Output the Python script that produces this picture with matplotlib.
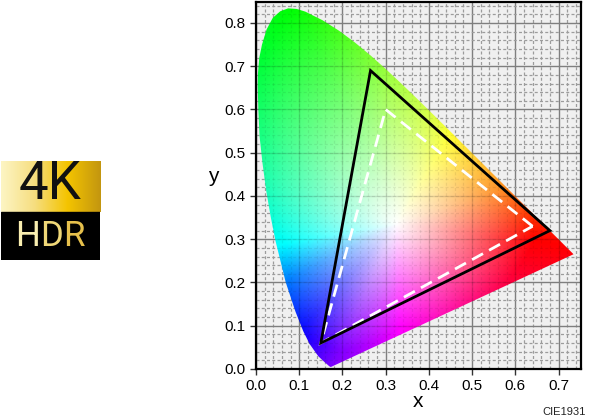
import numpy as np
import matplotlib
matplotlib.use("Agg")
import matplotlib.pyplot as plt
from matplotlib.patches import Polygon, Rectangle
from matplotlib.colors import LinearSegmentedColormap, hsv_to_rgb

plt.rcParams['font.family'] = ['Liberation Sans', 'DejaVu Sans']

# spectral locus outline, read around from the violet end to the red end
locus_x = [0.1741, 0.1733, 0.1714, 0.1689, 0.1644, 0.1566, 0.1440, 0.1241, 0.1096, 0.0913,
           0.0687, 0.0454, 0.0340, 0.0235, 0.0150, 0.0082, 0.0055, 0.0039, 0.0045, 0.0075,
           0.0139, 0.0245, 0.0389, 0.0560, 0.0743, 0.0940, 0.1142, 0.1547, 0.1929, 0.2296,
           0.2658, 0.3016, 0.3373, 0.3731, 0.4087, 0.4441, 0.4788, 0.5125, 0.5448, 0.5752,
           0.6029, 0.6270, 0.6482, 0.6658, 0.6801, 0.6915, 0.7006, 0.7079, 0.7140, 0.7190,
           0.7230, 0.7260, 0.7300, 0.7347]
locus_y = [0.0050, 0.0048, 0.0051, 0.0069, 0.0109, 0.0177, 0.0297, 0.0578, 0.0868, 0.1327,
           0.2007, 0.2950, 0.3520, 0.4127, 0.4760, 0.5384, 0.5970, 0.6548, 0.6830, 0.7190,
           0.7502, 0.7850, 0.8120, 0.8270, 0.8338, 0.8325, 0.8262, 0.8059, 0.7816, 0.7543,
           0.7243, 0.6923, 0.6589, 0.6245, 0.5896, 0.5547, 0.5202, 0.4866, 0.4544, 0.4242,
           0.3965, 0.3725, 0.3514, 0.3340, 0.3197, 0.3083, 0.2993, 0.2920, 0.2859, 0.2809,
           0.2770, 0.2740, 0.2700, 0.2653]

# colour triangles
p3_x = [0.68, 0.265, 0.15]
p3_y = [0.32, 0.69, 0.06]
rec709_x = [0.64, 0.30, 0.15]
rec709_y = [0.33, 0.60, 0.06]

x_ticks = [0.0, 0.1, 0.2, 0.3, 0.4, 0.5, 0.6, 0.7]
y_ticks = [0.0, 0.1, 0.2, 0.3, 0.4, 0.5, 0.6, 0.7, 0.8]

# hue seen in the picture per direction round the white point (degrees),
# and how far out the colour becomes fully saturated in that direction
white_x, white_y = 0.325, 0.335
dir_angle = [-7, 19, 59, 93, 115, 150, 190, 207, 228, 246, 272, 313, 353]
dir_hue = [0, 30, 60, 90, 120, 150, 180, 210, 240, 270, 300, 330, 360]
dir_reach = [0.32, 0.30, 0.30, 0.46, 0.56, 0.40, 0.26, 0.28, 0.34, 0.32, 0.24, 0.26, 0.32]


def field_rgb(x, y):
    angle = np.degrees(np.arctan2(y - white_y, x - white_x))
    angle = np.where(angle < -7, angle + 360, angle)
    hue = np.interp(angle, dir_angle, dir_hue) / 360.0
    reach = np.interp(angle, dir_angle, dir_reach)
    dist = np.hypot(x - white_x, y - white_y)
    sat = np.clip(dist / reach, 0, 1)
    return hsv_to_rgb(np.dstack([hue % 1.0, sat, np.ones_like(sat)]))


fig = plt.figure(figsize=(6, 4.2), dpi=100)
ax = fig.add_axes([256 / 600, 1 - 369 / 420, 325 / 600, 367 / 420])
ax.set_xlim(0, 0.752)
ax.set_ylim(0, 0.8485)
ax.set_facecolor('#f0f0f0')

ax.set_xticks(x_ticks)
ax.set_yticks(y_ticks)
minor_x = np.arange(0, 0.76, 0.02)
minor_y = np.arange(0, 0.85, 0.02)
ax.set_xticks(minor_x, minor=True)
ax.set_yticks(minor_y, minor=True)
ax.set_axisbelow(True)
ax.grid(which='major', color='#7f7f7f', lw=1.0)
ax.grid(which='minor', color='#9c9c9c', lw=0.9, ls=(0, (2.4, 1.8)))
ax.tick_params(which='minor', length=0)
ax.tick_params(which='major', length=4.5, width=1, labelsize=11, pad=3, color='#333333')

gx, gy = np.meshgrid(np.linspace(0, 0.752, 500), np.linspace(0, 0.8485, 500))
shape = Polygon(np.column_stack([locus_x, locus_y]), closed=True, transform=ax.transData)
img = ax.imshow(field_rgb(gx, gy), extent=[0, 0.752, 0, 0.8485], origin='lower',
                aspect='auto', interpolation='bilinear', zorder=2)
img.set_clip_path(shape)

# grid shows faintly through the coloured area
over = [ax.vlines(x_ticks, 0, 0.8485, color='black', lw=1.0, alpha=0.12, zorder=2.5),
        ax.hlines(y_ticks, 0, 0.752, color='black', lw=1.0, alpha=0.12, zorder=2.5),
        ax.vlines(minor_x, 0, 0.8485, color='black', lw=0.9, alpha=0.07, ls=(0, (2.4, 1.8)), zorder=2.5),
        ax.hlines(minor_y, 0, 0.752, color='black', lw=0.9, alpha=0.07, ls=(0, (2.4, 1.8)), zorder=2.5)]
for c in over:
    c.set_clip_path(shape)

ax.add_patch(Polygon(np.column_stack([rec709_x, rec709_y]), closed=True, fill=False,
                     ec='white', lw=2, ls=(0, (4.5, 2.5)), zorder=3))
ax.add_patch(Polygon(np.column_stack([p3_x, p3_y]), closed=True, fill=False,
                     ec='black', lw=2, joinstyle='miter', zorder=4))

for s in ax.spines.values():
    s.set_linewidth(1.6)
    s.set_zorder(5)

ax.set_xlabel('x', fontsize=15, labelpad=-1)
ax.set_ylabel('y', fontsize=15, rotation=0, labelpad=8)
fig.text(586 / 600, 1 - 412 / 420, 'CIE1931', fontsize=8, ha='right', va='center', color='#222222')

# 4K HDR badge
logo = fig.add_axes([1 / 600, 1 - 260 / 420, 99 / 600, 99 / 420])
logo.axis('off')
gold = LinearSegmentedColormap.from_list('gold', ['#fdf5c4', '#f6de80', '#f4c400', '#c39610'])
logo.imshow(np.linspace(0, 1, 200).reshape(1, -1), cmap=gold, extent=[0, 99, 51, 0], aspect='auto')
logo.add_patch(Rectangle((0, 51), 99, 48, fc='black', ec='black'))
logo.set_xlim(0, 99)
logo.set_ylim(99, 0)
logo.text(49, 23.5, '4K', fontsize=38, ha='center', va='center', color='#111111', family='Roboto')
for letter, lx, col in zip('HDR', [26, 50, 73], ['#f9eeb0', '#f0d878', '#e6c04c']):
    logo.text(lx, 75, letter, fontsize=25, ha='center', va='center', color=col, family='Roboto')

fig.savefig('out.png', dpi=100)
